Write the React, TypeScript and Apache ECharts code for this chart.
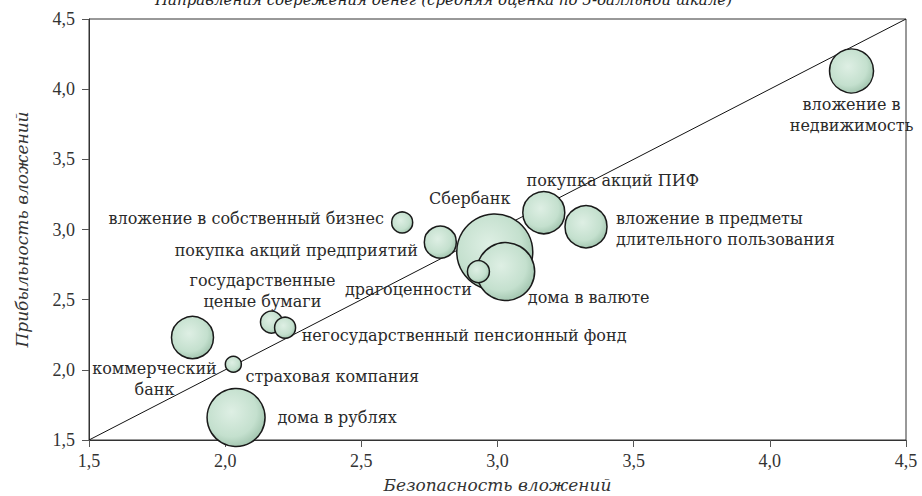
import React, { useEffect, useRef } from "react";
import * as echarts from "echarts";

const names = [
  "вложение в\nнедвижимость",
  "покупка акций ПИФ",
  "вложение в предметы\nдлительного пользования",
  "Сбербанк",
  "дома в валюте",
  "драгоценности",
  "покупка акций предприятий",
  "вложение в собственный бизнес",
  "государственные\nценые бумаги",
  "негосударственный пенсионный фонд",
  "коммерческий\nбанк",
  "страховая компания",
  "дома в рублях",
];
const safety = [4.3, 3.17, 3.325, 2.99, 3.03, 2.93, 2.79, 2.65, 2.17, 2.22, 1.88, 2.03, 2.04];
const profit = [4.13, 3.12, 3.02, 2.84, 2.7, 2.7, 2.91, 3.05, 2.34, 2.3, 2.23, 2.04, 1.66];
const weight = [22, 21, 21, 38, 29, 11, 16, 10.5, 11, 10.5, 21, 8, 29];
const xTicks = [1.5, 2.0, 2.5, 3.0, 3.5, 4.0, 4.5];

// label placement (offset from bubble centre, alignment)
const labelPlace: [number, number, string][] = [
  [0, 44, "center"],
  [69, -32, "center"],
  [30, 2, "left"],
  [-25, -53, "center"],
  [83, 26, "center"],
  [-70, 18, "center"],
  [-144, 8, "center"],
  [-156, -4, "center"],
  [-9, -31, "center"],
  [179, 8, "center"],
  [-38, 41, "center"],
  [99, 12, "center"],
  [101, 0, "center"],
];

const labelFont = "DejaVu Serif";
const tickFont = "Liberation Serif";

export default function App() {
  const ref = useRef<HTMLDivElement>(null);
  useEffect(() => {
    document.body.style.margin = "0";
    if (!ref.current) return;
    const chart = echarts.init(ref.current, null, { renderer: "svg" });
    const fmt = (v: number) => v.toFixed(1).replace(".", ",");
    const bubbleColor = new echarts.graphic.RadialGradient(0.42, 0.4, 0.62, [
      { offset: 0, color: "#deefe4" },
      { offset: 0.7, color: "#c4e0ce" },
      { offset: 1, color: "#a3c6b0" },
    ]);
    const data = names.map((n, i) => ({
      name: n,
      value: [safety[i], profit[i], weight[i]],
      label: {
        show: true,
        position: "inside",
        offset: [labelPlace[i][0], labelPlace[i][1]],
        align: labelPlace[i][2],
        verticalAlign: "middle",
        formatter: "{b}",
        color: "#2a2a2a",
        fontFamily: labelFont,
        fontSize: 16,
        lineHeight: 21,
      },
    }));
    chart.setOption({
      animation: false,
      backgroundColor: "#ffffff",
      title: {
        text: "Направления сбережения денег (средняя оценка по 5-балльной шкале)",
        left: 150,
        top: -13,
        textStyle: {
          fontFamily: labelFont,
          fontStyle: "italic",
          fontWeight: "normal",
          fontSize: 15,
          color: "#222",
        },
      },
      grid: {
        left: 89,
        right: 16,
        top: 19,
        bottom: 56,
        show: true,
        borderColor: "#333",
        borderWidth: 1,
        outerBoundsMode: "none",
        containLabel: false,
      },
      xAxis: {
        type: "value",
        min: 1.5,
        max: 4.5,
        interval: 0.5,
        name: "Безопасность вложений",
        nameLocation: "middle",
        nameGap: 36,
        nameTextStyle: { fontFamily: labelFont, fontStyle: "italic", fontSize: 17, color: "#333" },
        axisLine: { show: true, lineStyle: { color: "#333", width: 1 } },
        axisTick: { show: true, inside: false, length: 7, lineStyle: { color: "#555" } },
        axisLabel: { formatter: fmt, fontFamily: tickFont, fontSize: 18, color: "#333", margin: 12 },
        splitLine: { show: false },
      },
      yAxis: {
        type: "value",
        min: 1.5,
        max: 4.5,
        interval: 0.5,
        name: "Прибыльность вложений",
        nameLocation: "middle",
        nameGap: 59,
        nameTextStyle: { fontFamily: labelFont, fontStyle: "italic", fontSize: 17, color: "#333" },
        axisLine: { show: true, lineStyle: { color: "#333", width: 1 } },
        axisTick: { show: true, inside: false, length: 7, lineStyle: { color: "#555" } },
        axisLabel: { formatter: fmt, fontFamily: tickFont, fontSize: 18, color: "#333", margin: 14 },
        splitLine: { show: false },
      },
      series: [
        {
          type: "line",
          data: [
            [xTicks[0], xTicks[0]],
            [xTicks[xTicks.length - 1], xTicks[xTicks.length - 1]],
          ],
          symbol: "none",
          lineStyle: { color: "#111", width: 1 },
          z: 1,
          silent: true,
        },
        {
          type: "scatter",
          data,
          symbolSize: (v: number[]) => v[2] * 2,
          itemStyle: { color: bubbleColor, borderColor: "#1a1a1a", borderWidth: 1.5, opacity: 1 },
          z: 2,
          clip: true,
        },
      ],
    });
    return () => chart.dispose();
  }, []);
  return <div ref={ref} style={{ width: 922, height: 496 }} />;
}
